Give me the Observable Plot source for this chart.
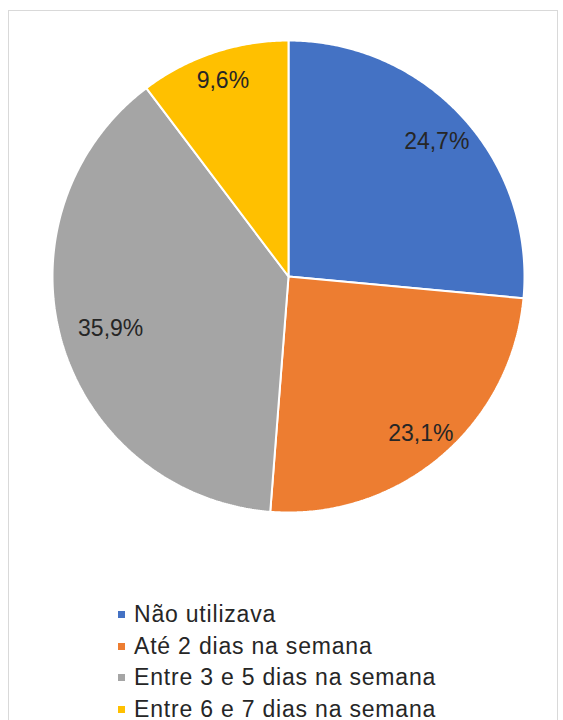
<!DOCTYPE html>
<html>
<head>
<meta charset="utf-8">
<script src="https://cdn.jsdelivr.net/npm/d3@7"></script>
<script src="https://cdn.jsdelivr.net/npm/@observablehq/plot@0.6"></script>
<style>
  html, body { margin: 0; padding: 0; background: #fff; width: 563px; height: 720px; overflow: hidden; }
  body { position: relative; font-family: "Liberation Sans", Arial, sans-serif; }
  #frame { position: absolute; left: 8px; top: 10px; width: 550px; height: 800px; border: 1px solid #d9d9d9; box-sizing: border-box; }
  #chart { position: absolute; left: 0; top: 0; }
  #legend { position: absolute; left: 118px; top: 599px; font-size: 23px; line-height: 31.5px; color: #262626; letter-spacing: 0.8px; white-space: nowrap; }
  #legend .sw { display: inline-block; width: 7px; height: 7px; vertical-align: middle; margin-right: 9px; position: relative; top: -1px; }
</style>
</head>
<body>
<div id="frame"></div>
<div id="chart"></div>
<div id="legend"></div>
<script>
// ---- data ----
const categories = ["Não utilizava", "Até 2 dias na semana", "Entre 3 e 5 dias na semana", "Entre 6 e 7 dias na semana"];
const values = [24.7, 23.1, 35.9, 9.6];
const colors = ["#4472C4", "#ED7D31", "#A5A5A5", "#FFC000"];

// ---- style ----
const labelRadius = [0.85, 0.87, 0.785, 0.875];

// ---- geometry (clockwise from 12 o'clock) ----
const total = d3.sum(values);
let acc = 0;
const slicePts = [];
const labels = [];
values.forEach((v, i) => {
  const a0 = acc / total * 2 * Math.PI;
  acc += v;
  const a1 = acc / total * 2 * Math.PI;
  const cat = categories[i];
  slicePts.push({cat, x: 0, y: 0});
  const n = Math.max(2, Math.ceil((a1 - a0) / (Math.PI / 360)));
  for (let k = 0; k <= n; k++) {
    const a = a0 + (a1 - a0) * k / n;
    slicePts.push({cat, x: Math.sin(a), y: Math.cos(a)});
  }
  slicePts.push({cat, x: 0, y: 0});
  const am = (a0 + a1) / 2;
  const r = labelRadius[i];
  labels.push({cat, x: r * Math.sin(am), y: r * Math.cos(am), text: v.toFixed(1).replace(".", ",") + "%"});
});

const chart = Plot.plot({
  width: 563,
  height: 590,
  x: {domain: [-1, 1], range: [52, 524], axis: null},
  y: {domain: [-1, 1], range: [512, 40], axis: null},
  color: {domain: categories, range: colors},
  style: {background: "transparent", fontFamily: "'Liberation Sans', Arial, sans-serif"},
  marks: [
    Plot.line(slicePts, {x: "x", y: "y", z: "cat", fill: "cat", stroke: "#ffffff", strokeWidth: 2, strokeLinejoin: "miter", curve: "linear"}),
    Plot.text(labels, {x: "x", y: "y", text: "text", fontSize: 23, fill: "#262626", textAnchor: "middle", style: "letter-spacing:0.4px"})
  ]
});
document.getElementById("chart").appendChild(chart);

// ---- legend ----
const legend = document.getElementById("legend");
categories.forEach((c, i) => {
  const row = document.createElement("div");
  const sw = document.createElement("span");
  sw.className = "sw";
  sw.style.background = colors[i];
  row.appendChild(sw);
  row.appendChild(document.createTextNode(c));
  legend.appendChild(row);
});
</script>
</body>
</html>
